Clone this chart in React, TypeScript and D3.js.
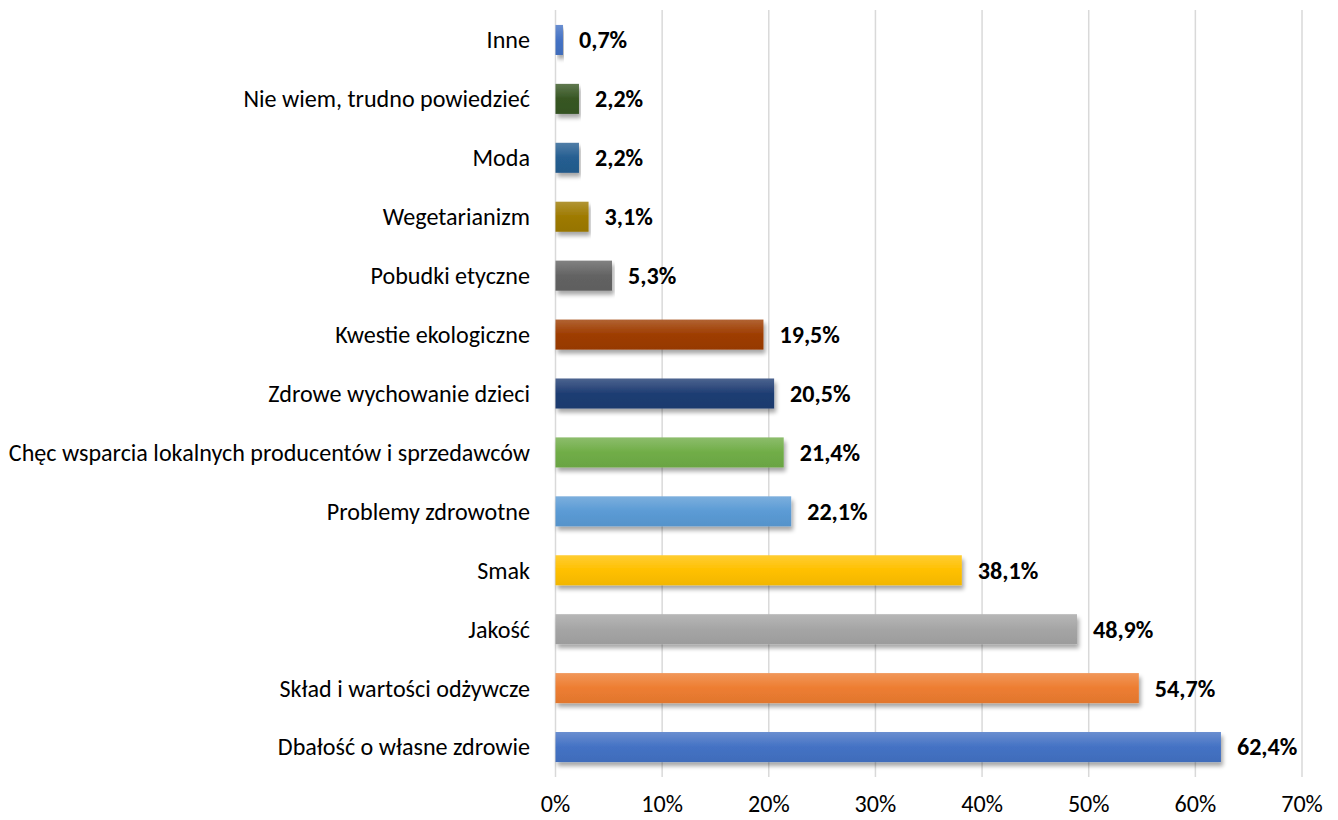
import React from "react";
import * as d3 from "d3";

const categories = [
  "Inne",
  "Nie wiem, trudno powiedzieć",
  "Moda",
  "Wegetarianizm",
  "Pobudki etyczne",
  "Kwestie ekologiczne",
  "Zdrowe wychowanie dzieci",
  "Chęc wsparcia lokalnych producentów i sprzedawców",
  "Problemy zdrowotne",
  "Smak",
  "Jakość",
  "Skład i wartości odżywcze",
  "Dbałość o własne zdrowie",
];
const values = [0.7, 2.2, 2.2, 3.1, 5.3, 19.5, 20.5, 21.4, 22.1, 38.1, 48.9, 54.7, 62.4];
const labels = ["0,7%", "2,2%", "2,2%", "3,1%", "5,3%", "19,5%", "20,5%", "21,4%", "22,1%", "38,1%", "48,9%", "54,7%", "62,4%"];
const colors = [
  "#4472c4", "#375623", "#255e91", "#9e7a00", "#636363", "#9e3c00",
  "#1f3d73", "#70ad47", "#5b9bd5", "#ffc000", "#a5a5a5", "#ed7d31", "#4472c4",
];
const ticks = [0, 10, 20, 30, 40, 50, 60, 70];

export default function App() {
  const W = 1338, H = 820;
  const x = d3.scaleLinear().domain([0, 70]).range([555.5, 1302]);
  const y = d3.scaleBand().domain(categories).range([10.5, 776.5]).paddingInner(0.49).paddingOuter(0.245);
  const font = "Carlito, Calibri, Lato, 'Liberation Sans', sans-serif";
  const fs = 24.1;
  return (
    <svg width={W} height={H} style={{ position: "absolute", left: 0, top: 0 }}>
      <defs>
        {colors.map((c, i) => {
          const base = d3.color(c)!;
          const top = d3.interpolateRgb(c, "#ffffff")(0.2);
          const bot = base.darker(0.15).formatHex();
          return (
            <linearGradient key={i} id={`g${i}`} x1="0" y1="0" x2="0" y2="1">
              <stop offset="0%" stopColor={top} />
              <stop offset="50%" stopColor={c} />
              <stop offset="100%" stopColor={bot} />
            </linearGradient>
          );
        })}
        <filter id="sh" x="-5%" y="-30%" width="110%" height="170%">
          <feGaussianBlur in="SourceAlpha" stdDeviation="2" />
          <feOffset dx="2" dy="4" result="b" />
          <feComponentTransfer>
            <feFuncA type="linear" slope="0.35" />
          </feComponentTransfer>
          <feMerge>
            <feMergeNode />
            <feMergeNode in="SourceGraphic" />
          </feMerge>
        </filter>
      </defs>
      <rect width={W} height={H} fill="#fff" />
      {ticks.map((t) => (
        <line key={t} x1={x(t)} x2={x(t)} y1={10} y2={777} stroke="#d9d9d9" strokeWidth={1.5} />
      ))}
      {categories.map((c, i) => {
        const by = y(c)!;
        const bh = y.bandwidth();
        return (
          <g key={c}>
            <rect x={x(0)} y={by} width={x(values[i]) - x(0)} height={bh} fill={`url(#g${i})`} filter="url(#sh)" />
            <text x={530} y={by + bh / 2} dy="0.35em" textAnchor="end" fontFamily={font} fontSize={fs} fill="#000">{c}</text>
            <text x={x(values[i]) + 16} y={by + bh / 2} dy="0.35em" textAnchor="start" fontFamily={font} fontSize={fs} fontWeight="bold" fill="#000">{labels[i]}</text>
          </g>
        );
      })}
      {ticks.map((t) => (
        <text key={t} x={x(t)} y={812} textAnchor="middle" fontFamily={font} fontSize={fs} fill="#000">{`${t}%`}</text>
      ))}
    </svg>
  );
}
